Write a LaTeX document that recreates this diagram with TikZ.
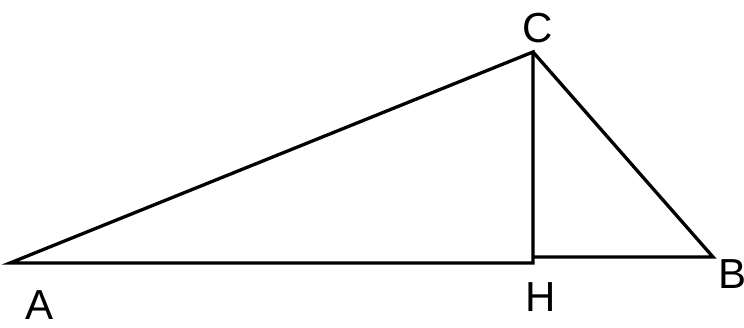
\documentclass[tikz,border=0pt]{standalone}
\usepackage{fontspec}
\setmainfont{Liberation Sans}
\usetikzlibrary{calc}
\tikzset{
  edge/.style={draw=black,line width=3.3pt,line join=miter},
  ptlab/.style={font=\fontsize{42}{42}\selectfont,inner sep=0pt},
}
\begin{document}
\begin{tikzpicture}[x=1pt,y=1pt]
\useasboundingbox (0,0) rectangle (744,328);
% points
\coordinate (A) at (10,65);
\coordinate (H) at (533,65);
\coordinate (Hb) at (533,71);
\coordinate (C) at (533,276);
\coordinate (B) at (713,71);
% sides
\draw[edge] (A) -- (H) -- (C) -- cycle;
\draw[edge] (C) -- (B) -- (Hb);
% labels
\node[ptlab] (lA) at (40,23) {A};
\node[ptlab] (lC) at (538,300) {C};
\node[ptlab] (lH) at (541,31) {H};
\node[ptlab] (lB) at (732,54) {B};
\end{tikzpicture}
\end{document}
